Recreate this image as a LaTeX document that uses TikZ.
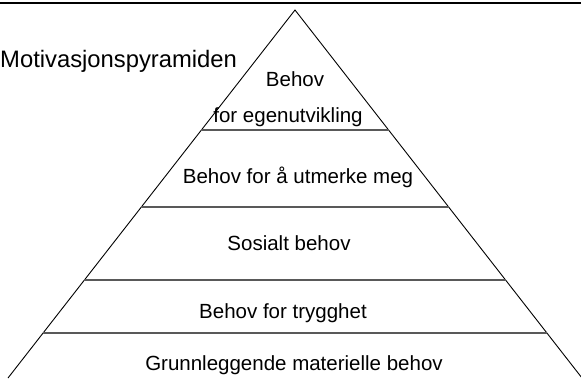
\documentclass[tikz,border=0pt]{standalone}
\usepackage{fontspec}
\setmainfont{Liberation Sans}
\usetikzlibrary{calc}
\begin{document}
\begin{tikzpicture}[x=1pt,y=-1pt,
  lbl/.style={font=\fontsize{20.5}{24}\selectfont, inner sep=0pt, anchor=base},
  ttl/.style={font=\fontsize{23.8}{28}\selectfont, inner sep=0pt, anchor=base west},
  side/.style={draw=black, line width=0.9pt},
  tier/.style={draw=black!65, line width=1.3pt},
  topline/.style={draw=black, line width=2.5pt}]
\useasboundingbox (0,0) rectangle (581,378);
\coordinate (TL) at (0,3);
\coordinate (TR) at (581,3);
\coordinate (A) at (295,10);
\coordinate (L) at (8,378);
\coordinate (R) at (582,378);
\draw[topline] (TL) -- (TR);
\draw[side] (L) -- (A) -- (R);
\foreach \t in {0.326,0.535,0.734,0.878}{
  \draw[tier] ($(A)!\t!(L)$) -- ($(A)!\t!(R)$);
}
\node[ttl] (title) at (0,67) {Motivasjonspyramiden};
\node[lbl] (t1a) at (295,86) {Behov};
\node[lbl] (t1b) at (288,122) {for egenutvikling};
\node[lbl] (t2) at (298,183) {Behov for å utmerke meg};
\node[lbl] (t3) at (289,250) {Sosialt behov};
\node[lbl] (t4) at (283,318) {Behov for trygghet};
\node[lbl] (t5) at (294,370) {Grunnleggende materielle behov};
\end{tikzpicture}
\end{document}
